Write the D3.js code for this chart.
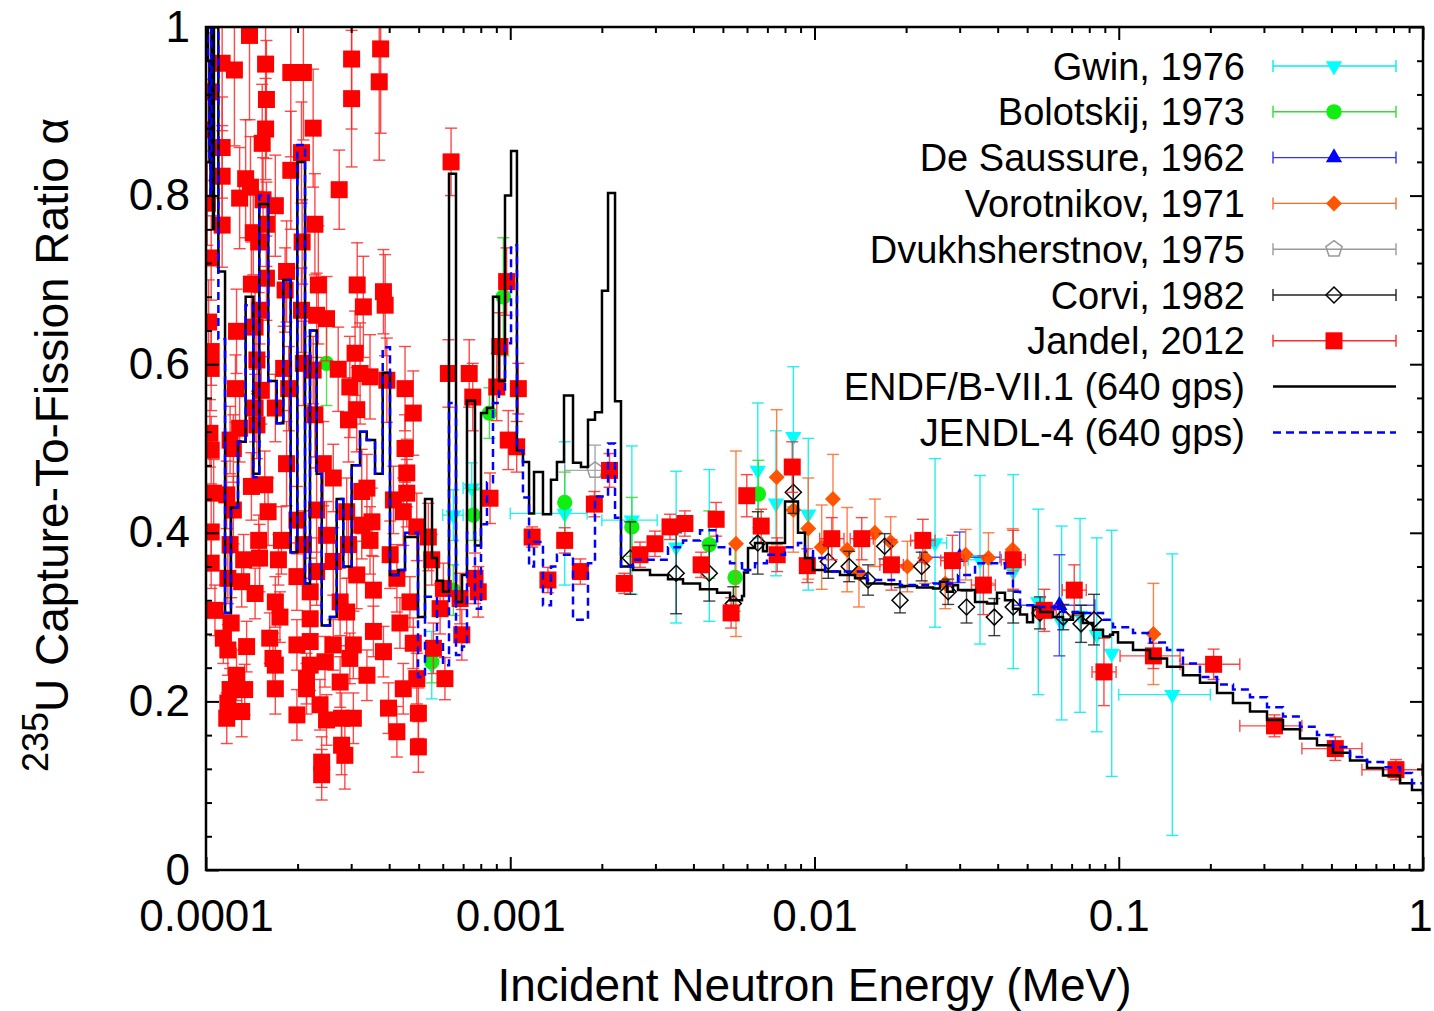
<!DOCTYPE html>
<html><head><meta charset="utf-8">
<script src="https://cdn.jsdelivr.net/npm/d3@7"></script>
<style>
body{margin:0;background:#fff}
svg{display:block}
text{font-family:"Liberation Sans",Arial,Helvetica,sans-serif;fill:#000}
</style>
</head><body>
<svg id="chart" width="1434" height="1011"></svg>
<script>
// ---------------- DATA ----------------
// 640-group library curves (group lower edges, MeV) and alpha values
const groupLowerEdge = [
1.000e-4,1.015e-4,1.027e-4,1.035e-4,1.042e-4,1.054e-4,1.062e-4,1.098e-4,1.155e-4,1.208e-4,
1.274e-4,1.350e-4,1.431e-4,1.497e-4,1.602e-4,1.708e-4,1.795e-4,1.898e-4,1.996e-4,2.116e-4,
2.197e-4,2.311e-4,2.401e-4,2.556e-4,2.689e-4,2.826e-4,3.012e-4,3.208e-4,3.375e-4,3.594e-4,
3.809e-4,4.025e-4,4.286e-4,4.509e-4,4.976e-4,5.246e-4,5.532e-4,5.745e-4,6.012e-4,6.291e-4,
6.633e-4,6.941e-4,7.208e-4,7.658e-4,8.014e-4,8.386e-4,8.776e-4,9.183e-4,9.610e-4,1.006e-3,
1.052e-3,1.101e-3,1.153e-3,1.197e-3,1.281e-3,1.361e-3,1.424e-3,1.502e-3,1.608e-3,1.708e-3,
1.801e-3,1.899e-3,2.002e-3,2.096e-3,2.210e-3,2.312e-3,2.532e-3,2.880e-3,3.300e-3,3.697e-3,
4.205e-3,4.783e-3,5.277e-3,5.778e-3,5.866e-3,6.046e-3,6.375e-3,6.772e-3,6.980e-3,8.000e-3,
8.826e-3,9.306e-3,9.887e-3,1.083e-2,1.213e-2,1.359e-2,1.488e-2,1.705e-2,1.910e-2,2.172e-2,
2.452e-2,2.585e-2,2.727e-2,2.853e-2,2.963e-2,3.370e-2,3.690e-2,3.980e-2,4.228e-2,4.491e-2,
4.738e-2,4.995e-2,5.226e-2,5.510e-2,6.080e-2,6.558e-2,7.073e-2,7.629e-2,8.228e-2,8.876e-2,
9.359e-2,9.574e-2,9.944e-2,0.1114,0.1267,0.1441,0.1626,0.1849,0.2104,0.2374,
0.2700,0.3071,0.3466,0.3942,0.4483,0.5061,0.5756,0.6546,0.7389,0.8402,
0.9201,1.0];
const endfAlpha = [
1.05,0.96,0.84,0.80,1.05,0.76,1.05,0.71,0.305,0.43,
0.508,0.68,0.47,0.79,0.58,0.53,0.70,0.377,0.84,0.34,
0.64,0.47,0.29,0.30,0.44,0.36,0.48,0.52,0.51,0.47,
0.59,0.35,0.356,0.395,0.30,0.44,0.37,0.343,0.33,0.826,
0.318,0.35,0.557,0.385,0.542,0.548,0.68,0.58,0.80,0.853,
0.498,0.484,0.423,0.472,0.422,0.463,0.484,0.563,0.483,0.478,
0.534,0.543,0.687,0.803,0.556,0.36,0.356,0.35,0.345,0.34,
0.333,0.329,0.32,0.325,0.353,0.382,0.388,0.378,0.388,0.437,
0.40,0.37,0.356,0.354,0.350,0.346,0.340,0.339,0.337,0.335,
0.334,0.342,0.33,0.338,0.332,0.318,0.316,0.329,0.32,0.31,
0.303,0.294,0.312,0.306,0.30,0.297,0.305,0.293,0.285,0.277,
0.279,0.282,0.270,0.261,0.251,0.241,0.231,0.222,0.210,0.198,
0.188,0.178,0.167,0.156,0.148,0.139,0.130,0.121,0.112,0.103,
0.095,0.089];
const jendlAlpha = [
1.05,0.96,0.84,0.80,1.05,1.05,1.05,0.63,0.305,0.43,
0.508,0.67,0.466,0.80,0.58,0.53,0.70,0.377,0.86,0.34,
0.64,0.47,0.29,0.30,0.44,0.36,0.48,0.52,0.51,0.47,
0.62,0.35,0.356,0.40,0.229,0.324,0.324,0.27,0.243,0.554,
0.255,0.265,0.40,0.31,0.41,0.46,0.554,0.57,0.625,0.741,
0.498,0.442,0.36,0.389,0.314,0.36,0.374,0.374,0.297,0.297,
0.364,0.443,0.443,0.506,0.418,0.36,0.368,0.368,0.383,0.391,
0.403,0.383,0.364,0.354,0.356,0.356,0.364,0.364,0.374,0.383,
0.388,0.378,0.37,0.354,0.354,0.354,0.344,0.344,0.338,0.338,
0.34,0.34,0.34,0.34,0.35,0.364,0.364,0.364,0.352,0.33,
0.314,0.314,0.312,0.312,0.312,0.306,0.306,0.305,0.305,0.297,
0.297,0.288,0.288,0.281,0.27,0.261,0.245,0.229,0.22,0.214,
0.205,0.193,0.182,0.17,0.16,0.146,0.134,0.128,0.122,0.115,
0.103,0.093];

// Experimental data: [E (MeV), alpha, dAlpha, Elow, Ehigh]
const gwin1976 = [
[5.52e-4,0.243,0.04],[6.50e-4,0.421,0.03,6.0e-4,7.0e-4],[7.47e-4,0.453,0.03,7.0e-4,8.0e-4],
[1.51e-3,0.423,0.085,1.0e-3,1.79e-3],[2.51e-3,0.415,0.088,2.0e-3,3.04e-3],
[3.51e-3,0.383,0.09],[4.51e-3,0.385,0.09],[6.51e-3,0.474,0.08],[7.47e-3,0.435,0.086],
[8.52e-3,0.514,0.083],[9.54e-3,0.422,0.09],
[2.49e-2,0.388,0.10,2.27e-2,2.72e-2],[3.50e-2,0.368,0.10,3.2e-2,3.8e-2],[4.50e-2,0.354,0.115],
[5.44e-2,0.318,0.11],[6.49e-2,0.293,0.115],[7.46e-2,0.302,0.115],[8.47e-2,0.279,0.115],
[9.48e-2,0.257,0.146],[0.150,0.208,0.167,0.1,0.2]];
const bolotskij1973 = [
[2.49e-4,0.601,0.05],[5.52e-4,0.247,0.025],[6.50e-4,0.332,0.03],[7.56e-4,0.421,0.03],
[8.54e-4,0.542,0.03],[9.49e-4,0.68,0.07],[1.51e-3,0.436,0.036],[2.51e-3,0.407,0.035],
[4.51e-3,0.386,0.04],[5.48e-3,0.347,0.04],[6.54e-3,0.446,0.04]];
const deSaussure1962 = [
[3.0e-2,0.371,0.03,2.22e-2,4.07e-2],[6.38e-2,0.314,0.06,4.5e-2,8.35e-2]];
const vorotnikov1971 = [
[5.52e-3,0.387,0.11],[7.51e-3,0.466,0.08],[8.52e-3,0.427,0.05],[9.54e-3,0.405,0.06],
[1.056e-2,0.383,0.05],[1.15e-2,0.44,0.053],[1.28e-2,0.38,0.05],[1.40e-2,0.352,0.04],
[1.58e-2,0.40,0.04],[1.78e-2,0.389,0.03],[2.02e-2,0.36,0.03],[2.31e-2,0.37,0.03],
[2.69e-2,0.34,0.03],[3.14e-2,0.374,0.03],[3.73e-2,0.37,0.03],[4.48e-2,0.38,0.025],
[0.130,0.28,0.06]];
const dvukhsherstnov1975 = [[1.90e-3,0.474,0.03,1.51e-3,2.24e-3]];
const corvi1982 = [
[2.48e-3,0.37,0.043],[3.51e-3,0.352,0.048],[4.51e-3,0.352,0.033],[5.41e-3,0.316,0.02],
[6.51e-3,0.388,0.037],[8.52e-3,0.448,0.025],[1.11e-2,0.366,0.02],[1.30e-2,0.36,0.018],
[1.50e-2,0.344,0.018],[1.70e-2,0.384,0.015],[1.91e-2,0.320,0.015],[2.25e-2,0.36,0.017],
[2.75e-2,0.33,0.015],[3.16e-2,0.312,0.019],[3.90e-2,0.30,0.022],[4.50e-2,0.312,0.019],
[5.51e-2,0.305,0.019],[6.57e-2,0.30,0.015],[7.52e-2,0.292,0.022],[8.29e-2,0.297,0.03]];
const jandel2012 = [
[1.39e-4,0.99,0.10],[1.13e-4,0.957,0.08],[1.24e-4,0.949,0.09],[1.57e-4,0.956,0.07],[1.90e-4,0.946,0.10],
[2.09e-4,0.946,0.08],[3.01e-4,0.962,0.083],[3.01e-4,0.915,0.081],[1.02e-4,0.923,0.07],[1.58e-4,0.914,0.07],
[1.005e-4,0.878,0.06],[1.57e-4,0.879,0.06],[2.25e-4,0.880,0.07],[1.13e-4,0.857,0.06],[1.53e-4,0.862,0.07],
[2.06e-4,0.851,0.06],[1.90e-4,0.830,0.07],[1.13e-4,0.823,0.06],[1.35e-4,0.820,0.07],[2.74e-4,0.807,0.047],
[1.40e-4,0.810,0.06],[1.01e-4,0.791,0.05],[1.29e-4,0.797,0.06],[1.54e-4,0.795,0.05],[1.69e-4,0.788,0.06],
[1.13e-4,0.765,0.05],[1.58e-4,0.766,0.05],[1.43e-4,0.756,0.05],[1.49e-4,0.745,0.06],[2.28e-4,0.766,0.06],
[2.07e-4,0.745,0.05],[1.04e-4,0.726,0.05],[1.84e-4,0.710,0.06],[1.58e-4,0.702,0.05],[1.41e-4,0.695,0.05],
[1.82e-4,0.688,0.05],[2.34e-4,0.694,0.07],[3.14e-4,0.694,0.05],[1.50e-4,0.664,0.04],[2.06e-4,0.664,0.05],
[3.29e-4,0.668,0.06],[2.31e-4,0.658,0.05],[2.49e-4,0.654,0.05],[1.02e-4,0.650,0.05],[1.26e-4,0.639,0.05],
[1.45e-4,0.644,0.05],[1.04e-4,0.615,0.04],[1.04e-4,0.595,0.05],[1.47e-4,0.605,0.04],[1.80e-4,0.595,0.05],
[2.09e-4,0.601,0.05],[2.25e-4,0.593,0.04],[2.72e-4,0.594,0.05],[3.09e-4,0.613,0.05],[3.21e-4,0.589,0.06],
[1.25e-4,0.571,0.04],[1.52e-4,0.569,0.04],[1.87e-4,0.571,0.05],[2.97e-4,0.573,0.06],[1.45e-4,0.548,0.04],
[1.69e-4,0.548,0.04],[2.28e-4,0.540,0.05],[3.13e-4,0.546,0.05],[1.03e-4,0.518,0.04],[1.29e-4,0.524,0.04],
[1.47e-4,0.528,0.04],[2.94e-4,0.534,0.05],[1.20e-4,0.510,0.04],[1.04e-4,0.498,0.04],[1.23e-4,0.50,0.04],
[1.06e-4,0.447,0.04],[1.17e-4,0.445,0.04],[1.41e-4,0.455,0.04],[1.56e-4,0.457,0.04],[1.84e-4,0.482,0.05],
[2.43e-4,0.482,0.05],[2.62e-4,0.465,0.04],[3.25e-4,0.449,0.05],[1.23e-4,0.427,0.04],[1.60e-4,0.425,0.04],
[1.99e-4,0.415,0.04],[2.31e-4,0.427,0.05],[2.90e-4,0.425,0.04],[3.25e-4,0.409,0.04],[1.04e-4,0.401,0.04],
[1.20e-4,0.386,0.04],[1.49e-4,0.391,0.03],[1.77e-4,0.391,0.04],[2.09e-4,0.386,0.04],[2.49e-4,0.397,0.04],
[2.94e-4,0.386,0.04],[1.04e-4,0.364,0.03],[1.33e-4,0.368,0.03],[1.50e-4,0.370,0.04],[1.73e-4,0.368,0.03],
[1.99e-4,0.348,0.04],[2.31e-4,0.354,0.04],[2.62e-4,0.366,0.04],[3.13e-4,0.350,0.04],[1.18e-4,0.346,0.03],
[1.31e-4,0.342,0.03],[1.45e-4,0.328,0.03],[1.69e-4,0.318,0.03],[2.20e-4,0.330,0.04],[2.76e-4,0.318,0.04],
[1.07e-4,0.308,0.03],[1.21e-4,0.293,0.03],[1.75e-4,0.300,0.03],[2.20e-4,0.298,0.03],[2.90e-4,0.306,0.04],
[1.14e-4,0.275,0.03],[1.36e-4,0.265,0.03],[1.62e-4,0.275,0.03],[1.99e-4,0.267,0.03],[2.20e-4,0.271,0.03],
[2.62e-4,0.267,0.03],[3.05e-4,0.267,0.04],[1.18e-4,0.261,0.03],[1.66e-4,0.251,0.03],[2.20e-4,0.243,0.03],
[2.46e-4,0.247,0.03],[2.97e-4,0.251,0.03],[1.26e-4,0.231,0.03],[1.69e-4,0.243,0.03],[2.14e-4,0.227,0.03],
[2.76e-4,0.223,0.03],[1.20e-4,0.214,0.025],[1.34e-4,0.214,0.03],[1.69e-4,0.215,0.03],[2.14e-4,0.215,0.03],
[1.18e-4,0.198,0.025],[1.31e-4,0.188,0.03],[1.17e-4,0.180,0.03],[1.99e-4,0.184,0.03],[2.37e-4,0.196,0.03],
[2.49e-4,0.178,0.03],[2.79e-4,0.180,0.03],[3.05e-4,0.180,0.03],[2.79e-4,0.148,0.035],[2.86e-4,0.136,0.04],
[2.40e-4,0.128,0.03],[2.40e-4,0.113,0.03],[3.75e-4,0.974,0.10],[3.71e-4,0.935,0.093],[6.39e-4,0.840,0.04],
[3.83e-4,0.686,0.05],[3.88e-4,0.670,0.06],[6.26e-4,0.589,0.04],[7.33e-4,0.589,0.04],[4.51e-4,0.571,0.05],
[7.53e-4,0.561,0.04],[4.80e-4,0.542,0.05],[9.73e-4,0.698,0.04],[9.25e-4,0.621,0.04],[9.03e-4,0.573,0.04],
[1.063e-3,0.571,0.03],[3.46e-4,0.585,0.05],[3.93e-4,0.581,0.05],[4.51e-4,0.50,0.04],[4.57e-4,0.471,0.04],
[4.57e-4,0.447,0.04],[3.38e-4,0.453,0.04],[4.13e-4,0.439,0.04],[4.45e-4,0.425,0.04],[3.51e-4,0.413,0.04],
[4.93e-4,0.407,0.04],[5.38e-4,0.395,0.04],[3.46e-4,0.391,0.04],[4.03e-4,0.374,0.04],[5.52e-4,0.368,0.03],
[6.03e-4,0.334,0.03],[5.88e-4,0.310,0.03],[6.84e-4,0.322,0.03],[7.66e-4,0.346,0.03],[7.85e-4,0.330,0.03],
[6.93e-4,0.279,0.03],[3.55e-4,0.332,0.04],[4.24e-4,0.346,0.04],[4.68e-4,0.318,0.03],[4.34e-4,0.293,0.03],
[3.55e-4,0.283,0.03],[5.59e-4,0.263,0.03],[4.80e-4,0.269,0.03],[3.83e-4,0.259,0.03],[3.38e-4,0.231,0.03],
[4.45e-4,0.215,0.03],[4.93e-4,0.227,0.03],[6.10e-4,0.227,0.025],[3.98e-4,0.192,0.03],[4.99e-4,0.186,0.03],
[4.24e-4,0.164,0.03],[4.99e-4,0.146,0.03],[8.58e-4,0.441,0.03],[1.05e-3,0.502,0.03],[9.85e-4,0.51,0.035],
[1.18e-3,0.395,0.012],
[1.33e-3,0.344,0.015,1.26e-3,1.40e-3],[1.51e-3,0.391,0.015,1.43e-3,1.59e-3],[1.70e-3,0.354,0.015,1.61e-3,1.79e-3],
[1.89e-3,0.434,0.015,1.79e-3,1.99e-3],[2.12e-3,0.474,0.02,2.01e-3,2.23e-3],[2.37e-3,0.340,0.012,2.25e-3,2.49e-3],
[2.67e-3,0.374,0.015,2.53e-3,2.81e-3],[2.99e-3,0.387,0.015,2.84e-3,3.15e-3],[3.35e-3,0.407,0.015,3.18e-3,3.52e-3],
[3.75e-3,0.411,0.015,3.56e-3,3.94e-3],[4.24e-3,0.362,0.015,4.02e-3,4.46e-3],[4.75e-3,0.416,0.02,4.50e-3,5.00e-3],
[5.32e-3,0.305,0.018,5.05e-3,5.60e-3],[5.99e-3,0.444,0.025,5.68e-3,6.30e-3],[6.68e-3,0.408,0.02,6.34e-3,7.03e-3],
[7.54e-3,0.374,0.02,7.16e-3,7.94e-3],[8.45e-3,0.478,0.03,8.02e-3,8.90e-3],[9.47e-3,0.361,0.02,8.99e-3,9.97e-3],
[1.14e-2,0.393,0.025,1.04e-2,1.25e-2],[1.43e-2,0.393,0.025,1.31e-2,1.56e-2],[1.79e-2,0.362,0.03,1.64e-2,1.96e-2],
[2.27e-2,0.391,0.025,2.07e-2,2.49e-2],[2.84e-2,0.367,0.03,2.60e-2,3.10e-2],[3.59e-2,0.338,0.035,3.28e-2,3.93e-2],
[4.50e-2,0.368,0.035,4.11e-2,4.93e-2],[5.69e-2,0.308,0.025,5.20e-2,6.23e-2],[7.14e-2,0.332,0.03,6.52e-2,7.82e-2],
[8.94e-2,0.235,0.04,8.17e-2,9.80e-2],[0.130,0.254,0.015,0.101,0.159],[0.205,0.244,0.018,0.159,0.25],
[0.325,0.171,0.013,0.25,0.40],[0.515,0.144,0.014,0.40,0.63],[0.815,0.119,0.012,0.63,0.99]];

const xTickValues = [1e-4,1e-3,1e-2,1e-1,1];
const xTickLabels = ["0.0001","0.001","0.01","0.1","1"];
const yTickValues = [0,0.2,0.4,0.6,0.8,1];
const yTickLabels = ["0","0.2","0.4","0.6","0.8","1"];
const legendLabels = ["Gwin, 1976","Bolotskij, 1973","De Saussure, 1962","Vorotnikov, 1971",
  "Dvukhsherstnov, 1975","Corvi, 1982","Jandel, 2012","ENDF/B-VII.1 (640 gps)","JENDL-4 (640 gps)"];

// ---------------- CHART ----------------
const svg = d3.select("#chart");
const L=206, R=1423, T=27, B=870;
const x = d3.scaleLog().domain([1e-4,1]).range([L,R]);
const y = d3.scaleLinear().domain([0,1]).range([B,T]);

svg.append("defs").append("clipPath").attr("id","plotclip")
  .append("rect").attr("x",L).attr("y",T).attr("width",R-L).attr("height",B-T);
const plot = svg.append("g").attr("clip-path","url(#plotclip)");

const pent = d3.range(5).map(k=>{const a=-Math.PI/2+k*2*Math.PI/5;return [8.5*Math.cos(a),8.5*Math.sin(a)];});
const shapes = {
  square: d3.symbol().type(d3.symbolSquare).size(289)(),
  circle: d3.symbol().type(d3.symbolCircle).size(185)(),
  triUp: d3.symbol().type(d3.symbolTriangle).size(115)(),
  diamond: "M0,-8L8,0L0,8L-8,0Z",
  pentagon: "M"+pent.map(p=>p.join(",")).join("L")+"Z"
};
const series = [
  {data:gwin1976, shape:"triUp", rot:180, fill:"#00ffff", stroke:"none", bar:"#00eeee"},
  {data:bolotskij1973, shape:"circle", rot:0, fill:"#11ee11", stroke:"none", bar:"#33dd33"},
  {data:deSaussure1962, shape:"triUp", rot:0, fill:"#0000ff", stroke:"none", bar:"#3333ff"},
  {data:vorotnikov1971, shape:"diamond", rot:0, fill:"#ff5500", stroke:"none", bar:"#ff6a2a"},
  {data:dvukhsherstnov1975, shape:"pentagon", rot:0, fill:"none", stroke:"#999999", bar:"#9a9a9a"},
  {data:corvi1982, shape:"diamond", rot:0, fill:"none", stroke:"#000000", bar:"#222222"},
  {data:jandel2012, shape:"square", rot:0, fill:"#ff0000", stroke:"none", bar:"#ff2a2a"}
];
const cap = 6;
function drawBars(g, d, color, op){
  const px=x(d[0]), py=y(d[1]);
  const y1=y(d[1]-d[2]), y2=y(d[1]+d[2]);
  const s={stroke:color,"stroke-width":1.4,opacity:op};
  const ln=(a,b,c,e)=>{const l=g.append("line").attr("x1",a).attr("y1",b).attr("x2",c).attr("y2",e);for(const k in s)l.attr(k,s[k]);};
  ln(px,y1,px,y2); ln(px-cap,y1,px+cap,y1); ln(px-cap,y2,px+cap,y2);
  if(d.length>4){const xa=x(d[3]),xb=x(d[4]);ln(xa,py,xb,py);ln(xa,py-cap,xa,py+cap);ln(xb,py-cap,xb,py+cap);}
}
function drawMarker(g, s, px, py){
  g.append("path").attr("d",shapes[s.shape])
   .attr("transform",`translate(${px},${py}) rotate(${s.rot})`)
   .attr("fill",s.fill).attr("stroke",s.stroke).attr("stroke-width",s.stroke==="none"?0:1.5);
}
series.forEach(s=>{
  const g=plot.append("g");
  s.data.forEach(d=>drawBars(g,d,s.bar,0.85));
  s.data.forEach(d=>drawMarker(g,s,x(d[0]),y(d[1])));
});

// library step curves
const stepLine = d3.line().x(d=>x(d[0])).y(d=>y(d[1])).curve(d3.curveStepAfter);
const endfPts = groupLowerEdge.map((e,i)=>[e,endfAlpha[i]]);
const jendlPts = groupLowerEdge.map((e,i)=>[e,jendlAlpha[i]]);
plot.append("path").attr("d",stepLine(endfPts)).attr("fill","none").attr("stroke","#000").attr("stroke-width",2.5);
plot.append("path").attr("d",stepLine(jendlPts)).attr("fill","none").attr("stroke","#0000ff")
  .attr("stroke-width",2.5).attr("stroke-dasharray","8,5");

// axes (inward ticks on all sides)
const minorX=[]; [1e-4,1e-3,1e-2,1e-1].forEach(dec=>{for(let k=2;k<=9;k++)minorX.push(dec*k);});
const minorY=d3.range(1,25).map(i=>i*0.04).filter(v=>Math.abs(v/0.2-Math.round(v/0.2))>1e-6);
function axisG(axis, tr){const g=svg.append("g").attr("transform",tr).call(axis);g.select(".domain").remove();g.selectAll("line").attr("stroke","#000").attr("stroke-width",2);return g;}
const fmtX=(d,i)=>xTickLabels[i], fmtY=(d,i)=>yTickLabels[i];
const gxb=axisG(d3.axisBottom(x).tickValues(xTickValues).tickFormat(fmtX).tickSizeInner(-13).tickSizeOuter(0).tickPadding(30),`translate(0,${B})`);
axisG(d3.axisBottom(x).tickValues(minorX).tickFormat("").tickSizeInner(-6).tickSizeOuter(0),`translate(0,${B})`);
axisG(d3.axisTop(x).tickValues(xTickValues).tickFormat("").tickSizeInner(-13).tickSizeOuter(0),`translate(0,${T})`);
axisG(d3.axisTop(x).tickValues(minorX).tickFormat("").tickSizeInner(-6).tickSizeOuter(0),`translate(0,${T})`);
const gyl=axisG(d3.axisLeft(y).tickValues(yTickValues).tickFormat(fmtY).tickSizeInner(-13).tickSizeOuter(0).tickPadding(16),`translate(${L},0)`);
axisG(d3.axisLeft(y).tickValues(minorY).tickFormat("").tickSizeInner(-6).tickSizeOuter(0),`translate(${L},0)`);
axisG(d3.axisRight(y).tickValues(yTickValues).tickFormat("").tickSizeInner(-13).tickSizeOuter(0),`translate(${R},0)`);
axisG(d3.axisRight(y).tickValues(minorY).tickFormat("").tickSizeInner(-6).tickSizeOuter(0),`translate(${R},0)`);
gxb.selectAll("text").attr("font-size",44).attr("font-family","Liberation Sans, Arial, sans-serif").attr("fill","#000")
  .attr("dx",(d,i)=>i===xTickValues.length-1?-3:0);
gyl.selectAll("text").attr("font-size",44).attr("font-family","Liberation Sans, Arial, sans-serif").attr("fill","#000");

// frame
svg.append("rect").attr("x",L).attr("y",T).attr("width",R-L).attr("height",B-T)
  .attr("fill","none").attr("stroke","#000").attr("stroke-width",2.5);

// axis titles
svg.append("text").attr("x",(L+R)/2).attr("y",1001).attr("text-anchor","middle").attr("font-size",46)
  .text("Incident Neutron Energy (MeV)");
const yt=svg.append("text").attr("transform","translate(68,445) rotate(-90)").attr("text-anchor","middle");
yt.append("tspan").attr("font-size",36).attr("dy",-20).text("235");
yt.append("tspan").attr("font-size",46).attr("dy",20).text("U Capture-To-Fission Ratio α");

// legend
const lg=svg.append("g");
legendLabels.forEach((name,i)=>{
  const yc=66+i*45.8;
  lg.append("text").attr("x",1245).attr("y",yc).attr("dy","0.36em").attr("text-anchor","end")
    .attr("font-size",38).text(name);
  if(i<series.length){
    const s=series[i];
    const c=s.bar;
    lg.append("line").attr("x1",1273).attr("x2",1396).attr("y1",yc).attr("y2",yc).attr("stroke",c).attr("stroke-width",1.4);
    lg.append("line").attr("x1",1273).attr("x2",1273).attr("y1",yc-6).attr("y2",yc+6).attr("stroke",c).attr("stroke-width",1.4);
    lg.append("line").attr("x1",1396).attr("x2",1396).attr("y1",yc-6).attr("y2",yc+6).attr("stroke",c).attr("stroke-width",1.4);
    drawMarker(lg,s,1334,yc);
  } else if(i===7){
    lg.append("line").attr("x1",1273).attr("x2",1396).attr("y1",yc).attr("y2",yc).attr("stroke","#000").attr("stroke-width",2.5);
  } else {
    lg.append("line").attr("x1",1273).attr("x2",1396).attr("y1",yc).attr("y2",yc).attr("stroke","#0000ff")
      .attr("stroke-width",2.5).attr("stroke-dasharray","8,5");
  }
});
</script>
</body></html>
